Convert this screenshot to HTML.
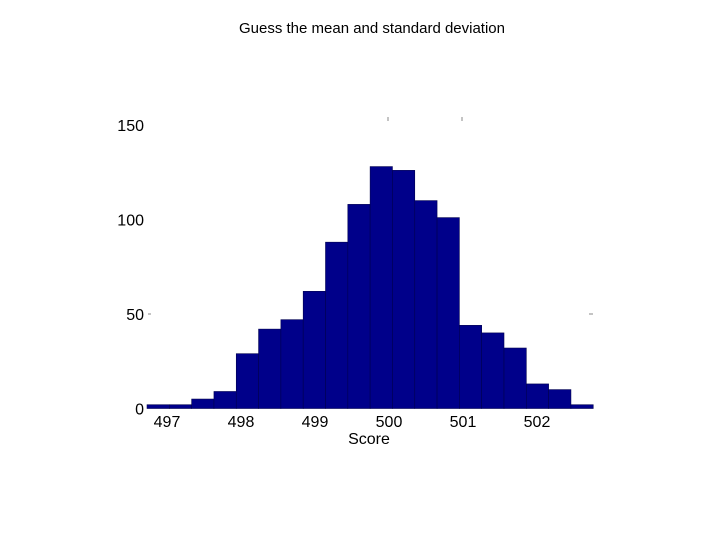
<!DOCTYPE html>
<html><head><meta charset="utf-8"><style>
html,body{margin:0;padding:0;background:#fff;width:720px;height:540px;overflow:hidden}
text{font-family:"Liberation Sans",Arial,sans-serif}
</style></head><body>
<svg id="chart" width="720" height="540" xmlns="http://www.w3.org/2000/svg">
<text x="372" y="33" text-anchor="middle" font-size="15" fill="#000" style="font-family:'Liberation Sans',sans-serif">Guess the mean and standard deviation</text>
<g id="bars"></g><g id="axes"></g>
</svg>
<script>
const counts=[2,2,5,9,29,42,47,62,88,108,128,126,110,101,44,40,32,13,10,2];
const xTicks=[497,498,499,500,501,502];
const yTicks=[0,50,100,150];
const binStart=496.73, binWidth=0.3015;
const xPx=v=>167+(v-497)*74;
const yPx=v=>408.5-v*1.89;
const NS="http://www.w3.org/2000/svg";
const bars=document.getElementById('bars'), axes=document.getElementById('axes');
counts.forEach((c,i)=>{
  const r=document.createElementNS(NS,'rect');
  const x0=xPx(binStart+i*binWidth), x1=xPx(binStart+(i+1)*binWidth);
  r.setAttribute('x',x0);r.setAttribute('width',x1-x0);
  r.setAttribute('y',yPx(c));r.setAttribute('height',yPx(0)-yPx(c));
  r.setAttribute('fill','#00008a');r.setAttribute('stroke','#000050');r.setAttribute('stroke-width','0.6');
  
  
  bars.appendChild(r);
});
xTicks.forEach(t=>{
  const tx=document.createElementNS(NS,'text');
  tx.setAttribute('x',xPx(t));tx.setAttribute('y',427);tx.setAttribute('text-anchor','middle');tx.setAttribute('font-size','16');
  tx.textContent=t;
  
  
  axes.appendChild(tx);
});
yTicks.forEach(t=>{
  const tx=document.createElementNS(NS,'text');
  tx.setAttribute('x',144);tx.setAttribute('y',yPx(t)+6);tx.setAttribute('text-anchor','end');tx.setAttribute('font-size','16');
  tx.textContent=t;
  
  
  axes.appendChild(tx);
});
const xl=document.createElementNS(NS,'text');
xl.setAttribute('x',369);xl.setAttribute('y',444);xl.setAttribute('text-anchor','middle');xl.setAttribute('font-size','16');
xl.textContent='Score';


axes.appendChild(xl);
[[388,117,388,121],[462,117,462,121],[148,314,151,314],[589,314,593,314]].forEach(l=>{
  const ln=document.createElementNS(NS,'line');
  ln.setAttribute('x1',l[0]);ln.setAttribute('y1',l[1]);ln.setAttribute('x2',l[2]);ln.setAttribute('y2',l[3]);
  ln.setAttribute('stroke','#888');ln.setAttribute('stroke-width','1');
  
  
  axes.appendChild(ln);
});
</script>
</body></html>
